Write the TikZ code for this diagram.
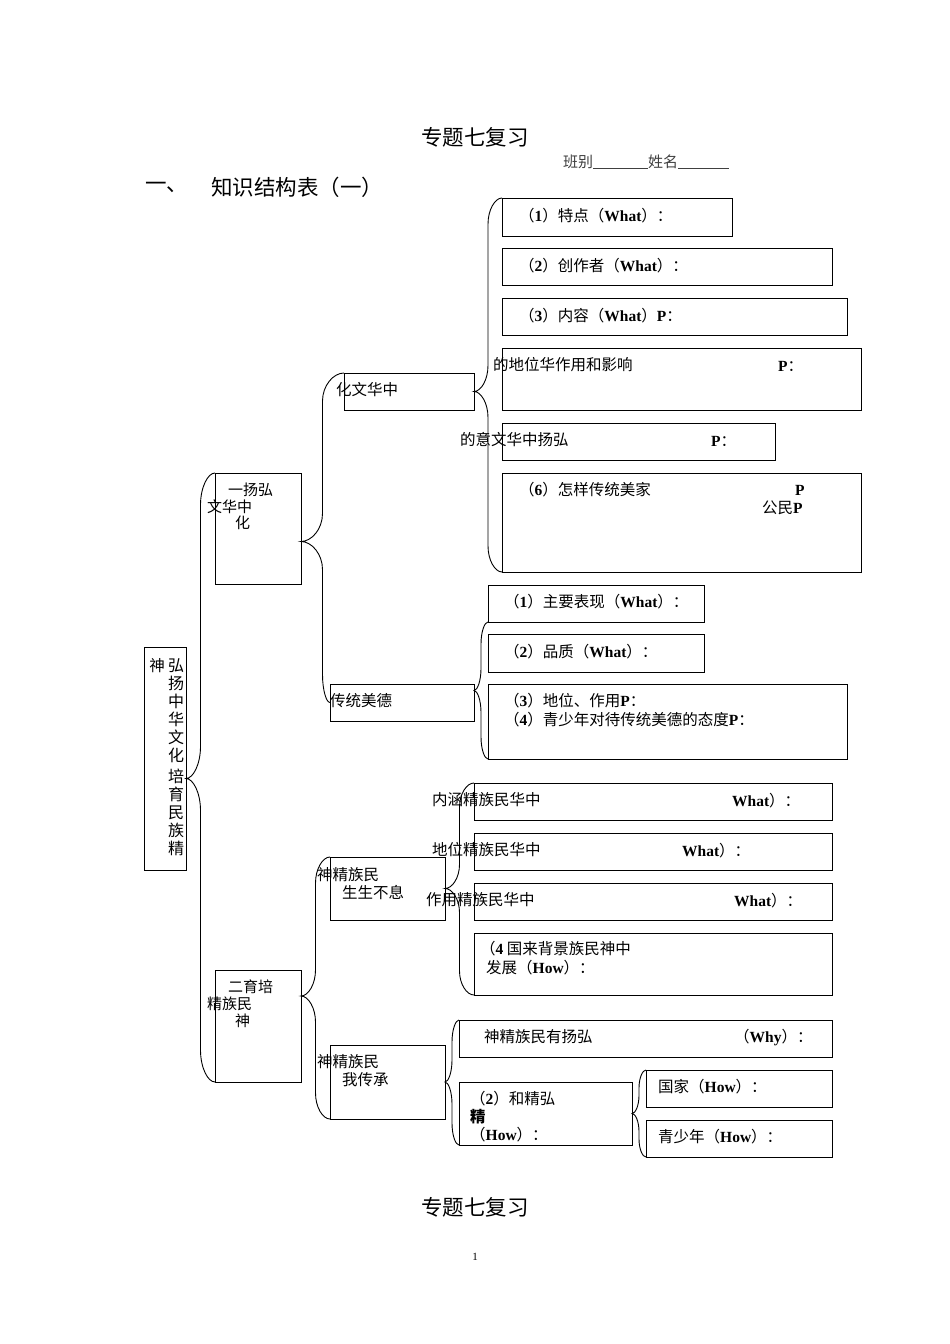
\documentclass[tikz,border=0pt]{standalone}
\usepackage{fontspec}
\setmainfont{Liberation Serif}
\newfontfamily\cjk{Noto Sans CJK SC}
\newfontfamily\lat{Liberation Serif}
\usetikzlibrary{calc}
\newcommand\W[1]{{\lat\bfseries #1}}
\tikzset{
 bx/.style={draw, line width=0.9pt, anchor=north west, inner sep=0pt, outer sep=0pt},
 tx/.style={anchor=west, inner sep=0pt, font=\cjk\fontsize{15.5}{18}\selectfont},
 hd/.style={inner sep=0pt, font=\cjk\fontsize{21.5}{24}\selectfont},
 brcline/.style={line width=0.9pt},
}
\newcommand\brc[4][26pt]{\draw[brcline] let \p1=(#2), \p2=(#3), \p3=(#4), \p4=($(\p1)!0.5!(\p2)$), \n1={#1} in
 (\p2) .. controls ({0.5*\x2+0.5*\x4},\y2) and (\x4,\y2-0.45*\n1) .. (\x4,\y2-\n1)
 -- (\x4,\y1+\n1) .. controls (\x4,\y1+0.45*\n1) and ({0.5*\x4+0.5*\x1},\y1) .. (\p1)
 .. controls ({0.5*\x4+0.5*\x1},\y1) and (\x4,\y1-0.45*\n1) .. (\x4,\y1-\n1)
 -- (\x4,\y3+\n1) .. controls (\x4,\y3+0.45*\n1) and ({0.5*\x3+0.5*\x4},\y3) .. (\p3);}
\begin{document}
\begin{tikzpicture}[x=1pt,y=-1pt]
\fill[white] (0,0) rectangle (950,1344);
\useasboundingbox (0,0) rectangle (950,1344);
% headings
\node[hd] (title) at (475,137) {专题七复习};
\node[tx, font=\cjk\fontsize{15}{18}\selectfont, text=black!75] (cls) at (563,162) {班别\rule[-2pt]{55pt}{0.9pt}姓名\rule[-2pt]{51pt}{0.9pt}};
\node[hd, anchor=west] (h1) at (145,187) {一、};
\node[hd, anchor=west] (h2) at (211,187) {知识结构表（一）};
\node[hd] (title2) at (475,1207) {专题七复习};
\node[inner sep=0pt, font=\lat\fontsize{11}{13}\selectfont] (pg) at (475,1257) {1};
% boxes
\node[bx, minimum width=42, minimum height=223] (root) at (144,647) {};
\node[bx, minimum width=86, minimum height=111] (A) at (215,473) {};
\node[bx, minimum width=130, minimum height=37] (B) at (344,373) {};
\node[bx, minimum width=230, minimum height=38] (b1) at (502,198) {};
\node[bx, minimum width=330, minimum height=37] (b2) at (502,248) {};
\node[bx, minimum width=345, minimum height=37] (b3) at (502,298) {};
\node[bx, minimum width=359, minimum height=62] (b4) at (502,348) {};
\node[bx, minimum width=273, minimum height=37] (b5) at (502,423) {};
\node[bx, minimum width=359, minimum height=99] (b6) at (502,473) {};
\node[bx, minimum width=144, minimum height=37] (C) at (330,684) {};
\node[bx, minimum width=216, minimum height=37] (c1) at (488,585) {};
\node[bx, minimum width=216, minimum height=38] (c2) at (488,634) {};
\node[bx, minimum width=359, minimum height=75] (c3) at (488,684) {};
\node[bx, minimum width=86, minimum height=112] (D) at (215,970) {};
\node[bx, minimum width=115, minimum height=63] (E) at (330,857) {};
\node[bx, minimum width=115, minimum height=74] (F) at (330,1045) {};
\node[bx, minimum width=358, minimum height=37] (e1) at (474,783) {};
\node[bx, minimum width=358, minimum height=37] (e2) at (474,833) {};
\node[bx, minimum width=358, minimum height=37] (e3) at (474,883) {};
\node[bx, minimum width=358, minimum height=62] (e4) at (474,933) {};
\node[bx, minimum width=373, minimum height=37] (f1) at (459,1020) {};
\node[bx, minimum width=173, minimum height=63] (f2) at (459,1082) {};
\node[bx, minimum width=186, minimum height=37] (g1) at (646,1070) {};
\node[bx, minimum width=186, minimum height=37] (g2) at (646,1120) {};
% brace tips
\coordinate (t0) at ([yshift=-20pt]root.east);
\coordinate (tA) at ([yshift=-13pt]A.east);
\coordinate (tC) at ([yshift=12pt]C.east);
\coordinate (tD) at ([yshift=30pt]D.east);
% braces
\brc[32pt]{t0}{A.north west}{D.south west}
\brc[28pt]{tA}{B.north west}{C.west}
\brc[26pt]{B.east}{b1.north west}{b6.south west}
\brc[22pt]{tC}{c1.south west}{c3.south west}
\brc[26pt]{tD}{E.north west}{F.south west}
\brc[24pt]{E.east}{e1.north west}{e4.south west}
\brc[22pt]{F.east}{f1.north west}{f2.south west}
\brc[18pt]{f2.east}{g1.north west}{g2.south west}
% root text
\node[tx, anchor=center] (rtA) at (157,666) {神};
\node[inner sep=0pt, anchor=north, align=center, font=\cjk\fontsize{16}{18}\selectfont] (rtB) at (176,658) {弘\\扬\\中\\华\\文\\化\\[3pt]培\\育\\民\\族\\精};
% A texts
\node[tx, font=\cjk\fontsize{15}{17}\selectfont] (a1) at (228,490) {一扬弘};
\node[tx, font=\cjk\fontsize{15}{17}\selectfont] (a2) at (207,507) {文华中};
\node[tx, font=\cjk\fontsize{15}{17}\selectfont] (a3) at (228,523) {\hspace{7pt}化};
% B and its boxes
\node[tx] (tB) at (336,390) {化文华中};
\node[tx] (tb1) at (519,216) {（\W{1}）特点（\W{What}）：};
\node[tx] (tb2) at (519,266) {（\W{2}）创作者（\W{What}）：};
\node[tx] (tb3) at (519,316) {（\W{3}）内容（\W{What}）\W{P}：};
\node[tx] (tb4) at (493,365) {的地位华作用和影响};
\node[tx] (tb4p) at (778,366) {\W{P}：};
\node[tx] (tb5) at (460,440) {的意文华中扬弘};
\node[tx] (tb5p) at (711,441) {\W{P}：};
\node[tx] (tb6) at (519,490) {（\W{6}）怎样传统美家};
\node[tx] (tb6p) at (795,490) {\W{P}};
\node[tx] (tb6q) at (762,508) {公民\W{P}};
% C and its boxes
\node[tx] (tC1) at (330,701) {传统美德};
\node[tx] (tc1) at (504,602) {（\W{1}）主要表现（\W{What}）：};
\node[tx] (tc2) at (504,652) {（\W{2}）品质（\W{What}）：};
\node[tx] (tc3) at (504,701) {（\W{3}）地位、作用\W{P}：};
\node[tx] (tc4) at (504,720) {（\W{4}）青少年对待传统美德的态度\W{P}：};
% D texts
\node[tx, font=\cjk\fontsize{15}{17}\selectfont] (d1) at (228,987) {二育培};
\node[tx, font=\cjk\fontsize{15}{17}\selectfont] (d2) at (207,1004) {精族民};
\node[tx, font=\cjk\fontsize{15}{17}\selectfont] (d3) at (228,1021) {\hspace{7pt}神};
% E and its boxes
\node[tx] (tE1) at (317,875) {神精族民};
\node[tx] (tE2) at (342,893) {生生不息};
\node[tx] (te1) at (432,800) {内涵精族民华中};
\node[tx] (te1w) at (732,801) {\W{What}）：};
\node[tx] (te2) at (432,850) {地位精族民华中};
\node[tx] (te2w) at (682,851) {\W{What}）：};
\node[tx] (te3) at (426,900) {作用精族民华中};
\node[tx] (te3w) at (734,901) {\W{What}）：};
\node[tx] (te4) at (480,949) {（\W{4} 国来背景族民神中};
\node[tx] (te4b) at (486,968) {发展（\W{How}）：};
% F and its boxes
\node[tx] (tF1) at (317,1062) {神精族民};
\node[tx] (tF2) at (342,1080) {我传承};
\node[tx] (tf1) at (484,1037) {神精族民有扬弘};
\node[tx] (tf1w) at (734,1038) {（\W{Why}）：};
\node[tx] (tf2) at (470,1099) {（\W{2}）和精弘};
\node[tx, font=\cjk\bfseries\fontsize{15.5}{18}\selectfont] (tf2b) at (470,1117) {精};
\node[tx] (tf2c) at (470,1135) {（\W{How}）：};
\node[tx] (tg1) at (658,1087) {国家（\W{How}）：};
\node[tx] (tg2) at (658,1137) {青少年（\W{How}）：};
\end{tikzpicture}
\end{document}
